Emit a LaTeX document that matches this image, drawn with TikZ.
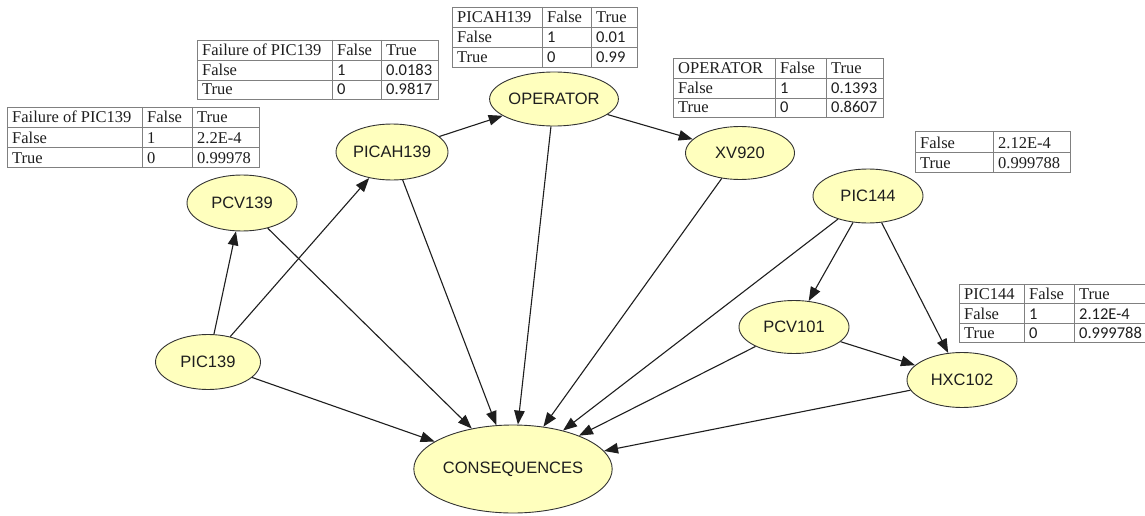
\documentclass[tikz,border=0pt]{standalone}
\usepackage{fontspec}
\setmainfont{Liberation Serif}
\newfontfamily\nodefont{Liberation Sans}
\newfontfamily\numfont{Carlito}
\usetikzlibrary{arrows.meta,shapes.geometric}
\definecolor{nodefill}{HTML}{FFFFBE}
\definecolor{nodeline}{HTML}{333333}
\definecolor{tabcol}{HTML}{808080}
\definecolor{txt}{HTML}{1E1E1E}
\tikzset{
  bn/.style={ellipse, draw=nodeline, line width=0.9pt, fill=nodefill, inner sep=0pt,
    font=\nodefont\fontsize{16.5}{18}\selectfont, text=txt},
  arr/.style={line width=1.1pt, draw=txt, -{Triangle[length=14pt,width=10.5pt]}},
  tabline/.style={draw=tabcol, line width=0.8pt},
  tcell/.style={anchor=base west, inner sep=0pt, text=txt},
  tser/.style={tcell, font=\fontsize{16.5}{18}\selectfont},
  tnum/.style={tcell, font=\numfont\fontsize{16.5}{18}\selectfont},
}
\newcommand\tgridthree[8]{%
  \draw[tabline] (#1,#5) rectangle (#4,#8);
  \draw[tabline] (#2,#5) -- (#2,#8) (#3,#5) -- (#3,#8) (#1,#6) -- (#4,#6) (#1,#7) -- (#4,#7);}
\begin{document}
\begin{tikzpicture}[x=1pt,y=-1pt]
\useasboundingbox (0,0) rectangle (1145,516);
\fill[white] (0,0) rectangle (1145,516);
\begin{scope}
\clip (0,0) rectangle (1145,516);
% ---------- tables ----------
% table 1 (Failure of PIC139, upper)
\tgridthree{197}{332}{381}{438}{40}{60}{80}{99}
\node[tser] (a00) at (202,56) {Failure of PIC139};
\node[tser] (a01) at (337,56) {False};
\node[tser] (a02) at (386,56) {True};
\node[tser] (a10) at (202,76) {False};
\node[tnum] (a11) at (337,76) {1};
\node[tnum] (a12) at (386,76) {0.0183};
\node[tser] (a20) at (202,95) {True};
\node[tnum] (a21) at (337,95) {0};
\node[tnum] (a22) at (386,95) {0.9817};
% table 2 (Failure of PIC139, lower)
\tgridthree{7}{142}{192}{259}{107}{127}{147}{167}
\node[tser] (b00) at (12,123) {Failure of PIC139};
\node[tser] (b01) at (147,123) {False};
\node[tser] (b02) at (197,123) {True};
\node[tser] (b10) at (12,143) {False};
\node[tser] (b11) at (147,143) {1};
\node[tser] (b12) at (197,143) {2.2E-4};
\node[tser] (b20) at (12,163) {True};
\node[tser] (b21) at (147,163) {0};
\node[tser] (b22) at (197,163) {0.99978};
% table 3 (PICAH139)
\tgridthree{452}{542}{591}{637}{7}{27}{47}{67}
\node[tser] (c00) at (457,23) {PICAH139};
\node[tser] (c01) at (547,23) {False};
\node[tser] (c02) at (596,23) {True};
\node[tser] (c10) at (457,43) {False};
\node[tnum] (c11) at (547,43) {1};
\node[tnum] (c12) at (596,43) {0.01};
\node[tser] (c20) at (457,63) {True};
\node[tnum] (c21) at (547,63) {0};
\node[tnum] (c22) at (596,63) {0.99};
% table 4 (OPERATOR)
\tgridthree{673}{775}{826}{883}{58}{78}{98}{117}
\node[tser] (d00) at (678,74) {OPERATOR};
\node[tser] (d01) at (780,74) {False};
\node[tser] (d02) at (831,74) {True};
\node[tser] (d10) at (678,94) {False};
\node[tnum] (d11) at (780,94) {1};
\node[tnum] (d12) at (831,94) {0.1393};
\node[tser] (d20) at (678,113) {True};
\node[tnum] (d21) at (780,113) {0};
\node[tnum] (d22) at (831,113) {0.8607};
% table 5 (prior of PIC144)
\draw[tabline] (915,131) rectangle (1070,172);
\draw[tabline] (993,131) -- (993,172) (915,152) -- (1070,152);
\node[tser] (e10) at (920,148) {False};
\node[tser] (e11) at (998,148) {2.12E-4};
\node[tser] (e20) at (920,168) {True};
\node[tser] (e21) at (998,168) {0.999788};
% table 6 (PIC144)
\tgridthree{959}{1024}{1074}{1160}{284}{303}{323}{342}
\node[tser] (f00) at (964,299) {PIC144};
\node[tser] (f01) at (1029,299) {False};
\node[tser] (f02) at (1079,299) {True};
\node[tser] (f10) at (964,319) {False};
\node[tnum] (f11) at (1029,319) {1};
\node[tnum] (f12) at (1079,319) {2.12E-4};
\node[tser] (f20) at (964,338) {True};
\node[tnum] (f21) at (1029,338) {0};
\node[tnum] (f22) at (1079,338) {0.999788};
\end{scope}
% ---------- nodes ----------
\node[bn, minimum width=128pt, minimum height=54pt] (op) at (554,99) {OPERATOR};
\node[bn, minimum width=109pt, minimum height=53pt] (xv) at (740,153) {XV920};
\node[bn, minimum width=112pt, minimum height=56pt] (picah) at (392,152) {PICAH139};
\node[bn, minimum width=110pt, minimum height=56pt] (pcv139) at (242,203) {PCV139};
\node[bn, minimum width=105pt, minimum height=55pt] (pic139) at (208,362) {PIC139};
\node[bn, minimum width=184pt, minimum height=88pt] (cons) at (513,469) {CONSEQUENCES};
\node[bn, minimum width=110pt, minimum height=54pt] (pic144) at (868,196) {PIC144};
\node[bn, minimum width=110pt, minimum height=53pt] (pcv101) at (794,327) {PCV101};
\node[bn, minimum width=110pt, minimum height=55pt] (hxc) at (962,380) {HXC102};
% ---------- edges ----------
\draw[arr] (pic139) -- (pcv139);
\draw[arr] (pic139) -- (picah);
\draw[arr] (pic139) -- (cons);
\draw[arr] (pcv139) -- (cons);
\draw[arr] (picah) -- (op);
\draw[arr] (picah) -- (cons);
\draw[arr] (op) -- (xv);
\draw[arr] (op) -- (cons);
\draw[arr] (xv) -- (cons);
\draw[arr] (pic144) -- (cons);
\draw[arr] (pic144) -- (pcv101);
\draw[arr] (pic144) -- (hxc);
\draw[arr] (pcv101) -- (hxc);
\draw[arr] (pcv101) -- (cons);
\draw[arr] (hxc) -- (cons);
\end{tikzpicture}
\end{document}
